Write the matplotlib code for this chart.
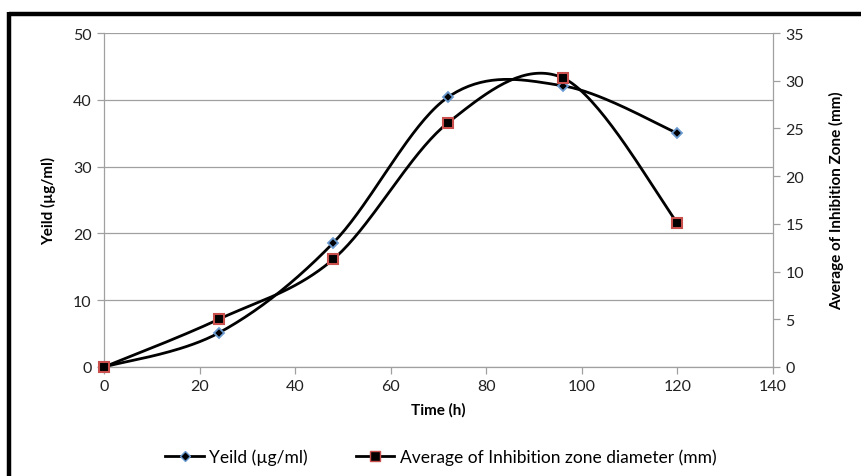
import numpy as np
import matplotlib
matplotlib.use("Agg")
import matplotlib.pyplot as plt
from matplotlib.lines import Line2D

plt.rcParams['font.family'] = ['Lato', 'DejaVu Sans']

time_h = [0, 24, 48, 72, 96, 120]
yield_ug = [0, 5.1, 18.6, 40.4, 42.1, 35.0]
inhibition_mm = [0, 5.0, 11.3, 25.6, 30.3, 15.1]
x_ticks = [0, 20, 40, 60, 80, 100, 120, 140]
y_left_ticks = [0, 10, 20, 30, 40, 50]
y_right_ticks = [0, 5, 10, 15, 20, 25, 30, 35]


def smooth(xs, ys, n=40):
    xs = np.asarray(xs, float); ys = np.asarray(ys, float)
    P = np.column_stack([xs, ys])
    P = np.vstack([P[0], P, P[-1]])
    out = []
    for i in range(1, len(P) - 2):
        p0, p1, p2, p3 = P[i-1], P[i], P[i+1], P[i+2]
        c1 = p1 + (p2 - p0) / 6.0
        c2 = p2 - (p3 - p1) / 6.0
        t = np.linspace(0, 1, n)[:, None]
        seg = ((1-t)**3)*p1 + 3*((1-t)**2)*t*c1 + 3*(1-t)*t**2*c2 + t**3*p2
        out.append(seg if i == 1 else seg[1:])
    s = np.vstack(out)
    return s[:, 0], s[:, 1]


fig = plt.figure(figsize=(8.61, 4.77), dpi=100)
ax = fig.add_axes([104/861, 1-368/477, (773-104)/861, (368-34)/477])
ax2 = ax.twinx()

grid_c = '#a0a0a0'
ax.set_xlim(0, 140)
ax.set_ylim(0, 50)
ax2.set_ylim(0, 35)
ax.set_xticks(x_ticks)
ax.set_yticks(y_left_ticks)
ax2.set_yticks(y_right_ticks)
ax.yaxis.grid(True, color=grid_c, lw=0.9)
ax.set_axisbelow(True)

for a in (ax, ax2):
    for sp in a.spines.values():
        sp.set_visible(False)
ax.spines['left'].set_visible(True)
ax.spines['bottom'].set_visible(True)
ax2.spines['right'].set_visible(True)
for sp in (ax.spines['left'], ax.spines['bottom'], ax2.spines['right']):
    sp.set_color(grid_c)
    sp.set_linewidth(0.9)

ax.tick_params(axis='both', direction='out', length=5, color=grid_c, width=0.9,
               labelsize=11.5, labelcolor='#222222', pad=4)
ax2.tick_params(axis='y', direction='out', length=5, color=grid_c, width=0.9,
                labelsize=11.5, labelcolor='#222222', pad=4)

sx, sy = smooth(time_h, yield_ug)
ax.plot(sx, sy, color='black', lw=2, zorder=3, clip_on=False)
ax.plot(time_h, yield_ug, ls='none', marker='D', ms=5.5, mfc='black',
        mec='#6c9bd2', mew=1.3, zorder=4, clip_on=False)

tx, ty = smooth(time_h, inhibition_mm)
ax2.plot(tx, ty, color='black', lw=2, zorder=3, clip_on=False)
ax2.plot(time_h, inhibition_mm, ls='none', marker='s', ms=7, mfc='black',
         mec='#c9504d', mew=1.5, zorder=4, clip_on=False)

ax.set_xlabel('Time (h)', fontsize=11, fontweight='bold', labelpad=6)
ax.set_ylabel('Yeild (µg/ml)', fontsize=11, fontweight='bold', labelpad=12)
ax2.set_ylabel('Average of Inhibition Zone (mm)', fontsize=11, fontweight='bold', labelpad=18)

h1 = Line2D([], [], color='black', lw=2, marker='D', ms=5, mfc='black', mec='#6c9bd2')
h2 = Line2D([], [], color='black', lw=2, marker='s', ms=7, mfc='black', mec='#c9504d')
fig.legend([h1, h2], ['Yeild (µg/ml)', 'Average of Inhibition zone diameter (mm)'],
           loc='center', bbox_to_anchor=(0.512, 1-458/477), ncol=2, frameon=False,
           fontsize=12.5, handlelength=2.2, columnspacing=2.8, handletextpad=0.3)

# figure frame (top and left thick black lines)
fig.add_artist(Line2D([9/861, 1], [1-15/477, 1-15/477], color='black', lw=3.2,
                      transform=fig.transFigure, solid_capstyle='butt'))
fig.add_artist(Line2D([9/861, 9/861], [0, 1-13/477], color='black', lw=3.2,
                      transform=fig.transFigure, solid_capstyle='butt'))

fig.savefig('out.png', dpi=100)
